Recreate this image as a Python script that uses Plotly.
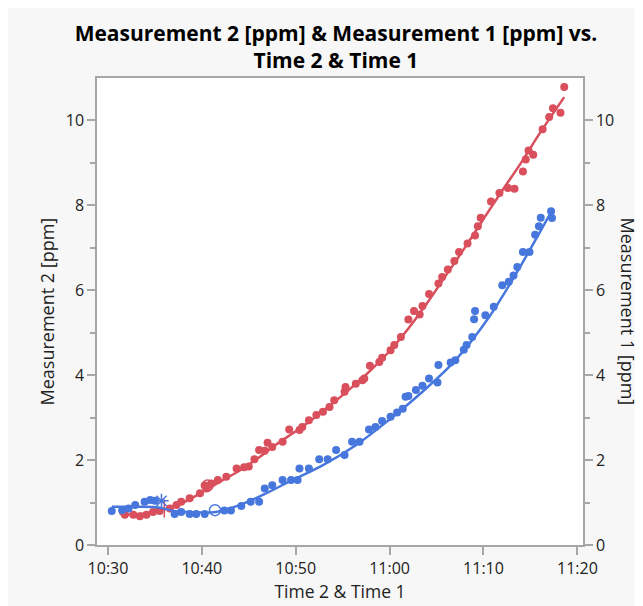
import pandas as pd
import plotly.graph_objects as go

BASE = pd.Timestamp("2024-01-01 10:30:00")

# Measurement 2 (red, left axis): minutes after 10:30 and values
m2_min = [1.6, 1.8, 2.7, 3.4, 4.1, 4.8, 5.5, 6.6, 7.3, 7.8, 8.7, 9.8, 10.3, 10.5, 11.0, 11.7,
          12.6, 13.7, 14.5, 15.0, 15.6, 16.1, 16.7, 17.0, 17.5, 18.6, 19.3, 20.4, 20.7, 21.4,
          22.2, 22.9, 23.6, 24.1, 25.2, 25.3, 26.4, 27.1, 27.3, 27.9, 28.9, 29.2, 30.1, 30.5,
          31.2, 32.0, 32.6, 33.2, 33.5, 34.2, 35.2, 35.6, 36.2, 36.9, 37.4, 38.3, 39.1, 39.4,
          39.7, 40.8, 41.7, 42.6, 43.3, 44.2, 44.5, 44.8, 45.3, 46.3, 47.0, 47.4, 48.2, 48.6]
m2_val = [0.78, 0.71, 0.71, 0.68, 0.71, 0.78, 0.80, 0.86, 0.94, 1.02, 1.10, 1.22, 1.40, 1.33, 1.45, 1.53,
          1.61, 1.80, 1.83, 1.85, 2.02, 2.24, 2.22, 2.41, 2.31, 2.43, 2.72, 2.71, 2.78, 2.94,
          3.06, 3.14, 3.25, 3.41, 3.61, 3.72, 3.80, 3.88, 3.92, 4.22, 4.31, 4.41, 4.59, 4.71,
          4.90, 5.31, 5.51, 5.43, 5.63, 5.91, 6.16, 6.31, 6.49, 6.69, 6.90, 7.10, 7.29, 7.51,
          7.71, 8.09, 8.29, 8.41, 8.39, 8.80, 9.08, 9.29, 9.19, 9.79, 10.08, 10.29, 10.18, 10.79]

# Measurement 1 (blue, right axis)
m1_min = [0.4, 1.5, 2.2, 2.9, 3.9, 4.5, 5.0, 7.1, 7.8, 8.7, 9.4, 10.3, 12.4, 13.1, 14.2, 15.2,
          16.1, 16.7, 17.5, 18.6, 19.5, 20.2, 20.4, 21.4, 22.5, 23.4, 24.3, 25.2, 26.0, 26.8,
          27.8, 28.5, 29.2, 30.1, 30.8, 31.4, 31.7, 32.0, 32.8, 33.5, 34.2, 35.1, 35.2, 36.5,
          37.0, 37.9, 38.2, 38.8, 39.0, 39.1, 40.2, 41.1, 42.0, 42.7, 43.2, 43.6, 44.2, 44.9,
          45.5, 45.9, 46.1, 47.2, 47.3]
m1_val = [0.80, 0.82, 0.86, 0.94, 1.02, 1.06, 1.04, 0.73, 0.78, 0.73, 0.73, 0.73, 0.81, 0.81, 0.92, 1.02,
          1.02, 1.33, 1.41, 1.53, 1.53, 1.53, 1.80, 1.80, 2.02, 2.02, 2.24, 2.12, 2.43, 2.43,
          2.72, 2.78, 2.92, 3.02, 3.12, 3.21, 3.49, 3.51, 3.65, 3.75, 3.92, 3.83, 4.24, 4.30,
          4.35, 4.60, 4.71, 4.90, 5.32, 5.51, 5.41, 5.61, 6.12, 6.20, 6.35, 6.55, 6.90, 6.90,
          7.31, 7.51, 7.71, 7.86, 7.70]

# smoothed fit curves
m2_fit_min = [1.5, 4, 6, 8, 10, 12, 14, 16, 18, 20, 22, 24, 26, 28, 30, 32, 34, 36, 38, 40, 42, 44, 46, 48.6]
m2_fit_val = [0.72, 0.74, 0.84, 1.0, 1.24, 1.5, 1.75, 2.05, 2.38, 2.68, 3.0, 3.35, 3.72, 4.12, 4.57,
              5.1, 5.7, 6.35, 7.0, 7.68, 8.35, 9.0, 9.7, 10.55]
m1_fit_min = [0.4, 3, 5.5, 7, 9, 11.5, 14, 16.5, 19.3, 22.9, 26.4, 29.9, 33.5, 37, 40.6, 44.1, 47.3]
m1_fit_val = [0.9, 0.9, 0.88, 0.8, 0.77, 0.78, 0.94, 1.18, 1.49, 1.88, 2.35, 2.94, 3.61, 4.35, 5.37, 6.63, 7.88]

# specially marked rows
m2_circle_min, m2_circle_val = [10.6], [1.40]
m2_plus_min, m2_plus_val = [6.0], [0.86]
m1_star_min, m1_star_val = [5.7], [1.04]
m1_circle_min, m1_circle_val = [11.4], [0.82]

x_range_min = [-1.17, 50.6]
tick_min = [0, 10, 20, 30, 40, 50]
tick_text = ["10:30", "10:40", "10:50", "11:00", "11:10", "11:20"]
y_ticks = [0, 2, 4, 6, 8, 10]
y_minor = [1, 3, 5, 7, 9]


def tt(mins):
    return [BASE + pd.Timedelta(minutes=m) for m in mins]


RED = "#d94f5c"
BLUE = "#4777dd"
GRID = "#a6a6a6"
FONT = "Open Sans, Noto Sans, sans-serif"

fig = go.Figure()
fig.add_trace(go.Scatter(x=tt(m1_fit_min), y=m1_fit_val, mode="lines", yaxis="y2",
                         line=dict(color=BLUE, width=2.5, shape="spline", smoothing=1.0)))
fig.add_trace(go.Scatter(x=tt(m1_min), y=m1_val, mode="markers", yaxis="y2",
                         marker=dict(color=BLUE, size=8)))
fig.add_trace(go.Scatter(x=tt(m1_star_min), y=m1_star_val, mode="markers", yaxis="y2",
                         marker=dict(color=BLUE, size=12, symbol="asterisk-open", line=dict(color=BLUE, width=1.5))))
fig.add_trace(go.Scatter(x=tt(m1_circle_min), y=m1_circle_val, mode="markers", yaxis="y2",
                         marker=dict(color=BLUE, size=11, symbol="circle-open", line=dict(color=BLUE, width=1.5))))
fig.add_trace(go.Scatter(x=tt(m2_fit_min), y=m2_fit_val, mode="lines",
                         line=dict(color=RED, width=2.5, shape="spline", smoothing=1.0)))
fig.add_trace(go.Scatter(x=tt(m2_min), y=m2_val, mode="markers",
                         marker=dict(color=RED, size=8)))
fig.add_trace(go.Scatter(x=tt(m2_circle_min), y=m2_circle_val, mode="markers",
                         marker=dict(color=RED, size=11, symbol="circle-open", line=dict(color=RED, width=1.5))))
fig.add_trace(go.Scatter(x=tt(m2_plus_min), y=m2_plus_val, mode="markers",
                         marker=dict(color=RED, size=13, symbol="cross-thin-open", line=dict(color=RED, width=1.5))))

axis_common = dict(showline=True, linecolor=GRID, linewidth=1.5, showgrid=False, zeroline=False,
                   ticks="outside", tickcolor=GRID, ticklen=8, tickwidth=1.5, automargin=False,
                   tickfont=dict(family=FONT, size=16, color="#222"))
minor = dict(tickvals=y_minor, ticks="outside", ticklen=5, tickcolor=GRID, tickwidth=1.5)
ytitle_font = dict(family=FONT, size=18, color="#222")

fig.update_layout(
    width=643, height=606,
    paper_bgcolor="#f7f7f7", plot_bgcolor="white",
    margin=dict(l=89, r=68, t=70, b=69, autoexpand=False),
    showlegend=False,
    font=dict(family=FONT, color="#222"),
    title=dict(text="<b>Measurement 2 [ppm] & Measurement 1 [ppm] vs.<br>Time 2 & Time 1</b>",
               x=0.51, xanchor="center", y=0.9455, yanchor="top",
               font=dict(family=FONT, size=21, color="black")),
    xaxis=dict(**axis_common, mirror=True,
               range=tt(x_range_min), tickvals=tt(tick_min), ticktext=tick_text,
               title=dict(text="Time 2 & Time 1", font=dict(family=FONT, size=17.5, color="#222"), standoff=4)),
    yaxis=dict(**axis_common, range=[0, 11], tickvals=y_ticks, minor=minor),
    yaxis2=dict(**axis_common, range=[0, 11], tickvals=y_ticks, minor=minor,
                overlaying="y", side="right"),
    annotations=[
        dict(text="Measurement 2 [ppm]", textangle=-90, xref="paper", yref="paper",
             x=0.0, xshift=-51, y=0.5, xanchor="center", yanchor="middle", showarrow=False,
             font=ytitle_font),
        dict(text="Measurement 1 [ppm]", textangle=90, xref="paper", yref="paper",
             x=1.0, xshift=45, y=0.5, xanchor="center", yanchor="middle", showarrow=False,
             font=ytitle_font),
    ],
)

fig.write_html("out.html")
